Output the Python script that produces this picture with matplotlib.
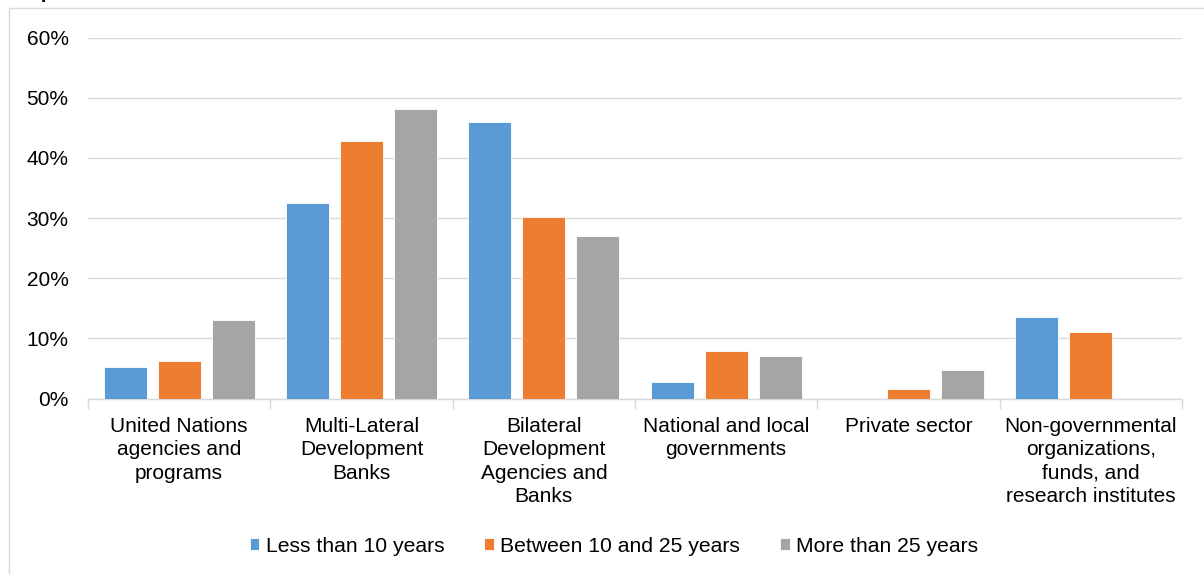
import matplotlib
matplotlib.use("Agg")
import matplotlib.pyplot as plt
import numpy as np
from matplotlib.patches import Rectangle

plt.rcParams['font.family'] = ['Liberation Sans', 'DejaVu Sans']

categories = [
    "United Nations\nagencies and\nprograms",
    "Multi-Lateral\nDevelopment\nBanks",
    "Bilateral\nDevelopment\nAgencies and\nBanks",
    "National and local\ngovernments",
    "Private sector",
    "Non-governmental\norganizations,\nfunds, and\nresearch institutes",
]
series_names = ["Less than 10 years", "Between 10 and 25 years", "More than 25 years"]
less_than_10 = [0.053, 0.325, 0.459, 0.027, 0.0, 0.135]
between_10_25 = [0.063, 0.428, 0.302, 0.079, 0.016, 0.111]
more_than_25 = [0.130, 0.482, 0.270, 0.070, 0.047, 0.0]
colors = ["#5B9BD5", "#ED7D31", "#A5A5A5"]
yticks = [0, 0.1, 0.2, 0.3, 0.4, 0.5, 0.6]
ytick_labels = ["0%", "10%", "20%", "30%", "40%", "50%", "60%"]

W, H = 1204, 574
fig = plt.figure(figsize=(W / 100, H / 100), dpi=100)
fig.patch.set_facecolor("white")

# outer chart frame
fig.patches.append(Rectangle((9 / W, -0.1), 1.2, 1 - 8 / H + 0.1, transform=fig.transFigure,
                             fill=False, edgecolor="#D9D9D9", linewidth=1.0))
# title fragment, clipped at the very top as in the reference
fig.text(18 / W, 1 + 1.5 / H, "Experience", fontsize=14, fontweight="bold",
         ha="left", va="baseline", color="black")

left, right = 88 / W, 1182 / W
bottom, top = 1 - 398.5 / H, 1 - 37.7 / H
ax = fig.add_axes([left, bottom, right - left, top - bottom])

x = np.arange(len(categories))
width = 0.236
step = 0.296
all_series = [less_than_10, between_10_25, more_than_25]
for i, (vals, col, name) in enumerate(zip(all_series, colors, series_names)):
    ax.bar(x + (i - 1) * step, vals, width, color=col, label=name,
           edgecolor="white", linewidth=0.6, zorder=3)

FS = 15
ax.set_xlim(-0.5, len(categories) - 0.5)
ax.set_ylim(0, 0.6)
ax.set_yticks(yticks)
ax.set_yticklabels(ytick_labels)
ax.tick_params(axis="y", length=0, pad=14, labelsize=FS, labelcolor="black")
ax.grid(axis="y", color="#D9D9D9", linewidth=1.0, zorder=0)

ax.set_xticks(np.arange(len(categories) + 1) - 0.5)
ax.set_xticklabels([])
ax.tick_params(axis="x", which="major", length=7, color="#D9D9D9", width=1.0)
ax.set_xticks(x, minor=True)
ax.set_xticklabels(categories, minor=True, fontsize=FS, color="black", linespacing=1.3)
ax.tick_params(axis="x", which="minor", length=0, pad=13)

for s in ["top", "right", "left"]:
    ax.spines[s].set_visible(False)
ax.spines["bottom"].set_color("#D9D9D9")
ax.spines["bottom"].set_linewidth(1.0)

leg = fig.legend(loc="center", bbox_to_anchor=(614 / W, 1 - 546 / H), ncol=3, frameon=False,
                 fontsize=15.2, handlelength=0.45, handleheight=0.45, handletextpad=0.3,
                 columnspacing=1.9)

fig.savefig("out.png", dpi=100, facecolor="white")
